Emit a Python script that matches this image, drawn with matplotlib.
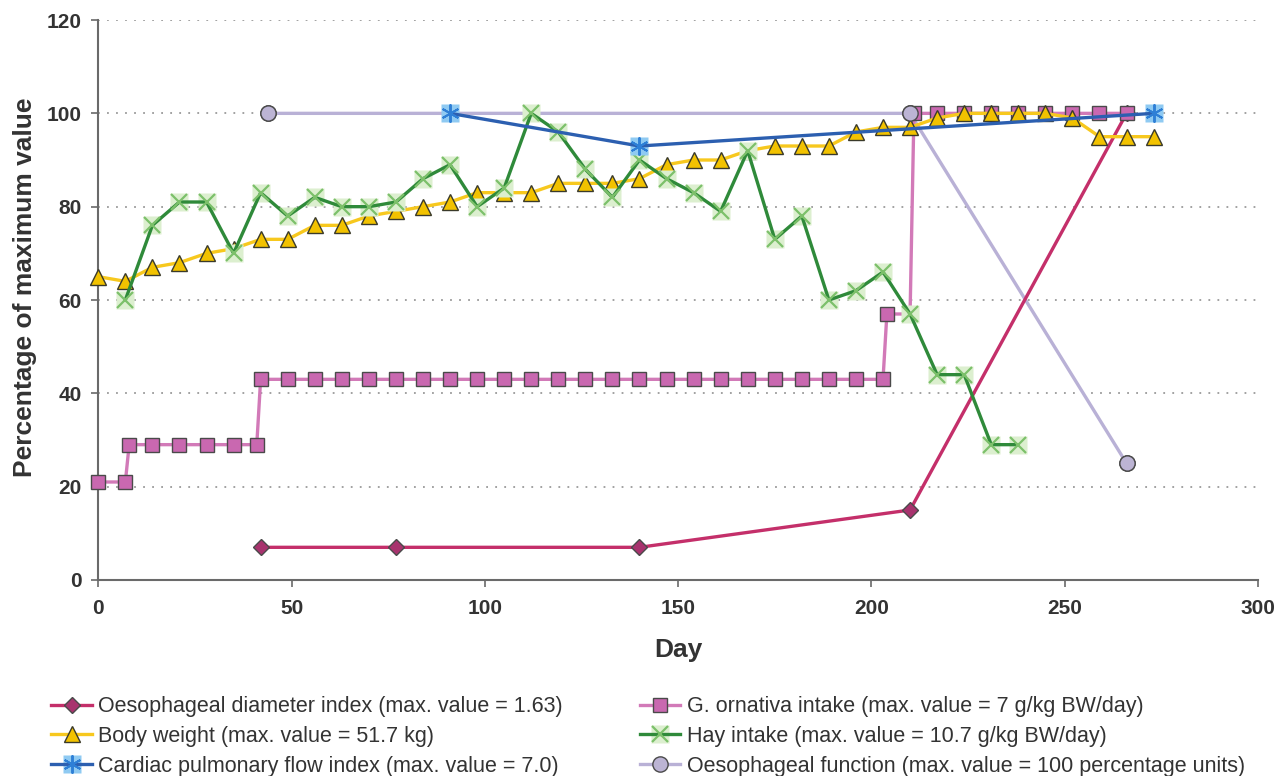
import matplotlib.pyplot as plt
from matplotlib.legend_handler import HandlerTuple

plt.rcParams['font.family'] = ['Liberation Sans', 'DejaVu Sans']

# data
bw_days = list(range(0, 274, 7))
bw_vals = [65, 64, 67, 68, 70, 71, 73, 73, 76, 76, 78, 79, 80, 81, 83, 83, 83, 85, 85, 85,
           86, 89, 90, 90, 92, 93, 93, 93, 96, 97, 97, 99, 100, 100, 100, 100, 99, 95, 95, 95]

hay_days = list(range(7, 239, 7))
hay_vals = [60, 76, 81, 81, 70, 83, 78, 82, 80, 80, 81, 86, 89, 80, 84, 100, 96, 88, 82, 90,
            86, 83, 79, 92, 73, 78, 60, 62, 66, 57, 44, 44, 29, 29]

go_days = [0, 7, 8, 14, 21, 28, 35, 41] + list(range(42, 204, 7)) + [204, 210, 211] + list(range(217, 267, 7))
go_vals = [21, 21, 29, 29, 29, 29, 29, 29] + [43] * 24 + [57, 57, 100] + [100] * 8

diam_days = [42, 77, 140, 210, 266]
diam_vals = [7, 7, 7, 15, 100]

cpf_days = [91, 140, 273]
cpf_vals = [100, 93, 100]

func_days = [44, 210, 266]
func_vals = [100, 100, 25]

labels = ['Oesophageal diameter index (max. value = 1.63)',
          'G. ornativa intake (max. value = 7 g/kg BW/day)',
          'Body weight (max. value = 51.7 kg)',
          'Hay intake (max. value = 10.7 g/kg BW/day)',
          'Cardiac pulmonary flow index (max. value = 7.0)',
          'Oesophageal function (max. value = 100 percentage units)']

fig = plt.figure(figsize=(12.88, 7.76), dpi=100)
ax = fig.add_axes([0.0763, 0.2526, 0.9004, 0.7216])

edge = '#4a4a4a'
lw = 2.4

h_func, = ax.plot(func_days, func_vals, color='#b9b1d6', lw=lw, marker='o', ms=11,
                  mfc='#bcb4d4', mec=edge, mew=1.0, zorder=3, clip_on=False)
h_diam, = ax.plot(diam_days, diam_vals, color='#c42f6a', lw=lw, marker='D', ms=8,
                  mfc='#a8336e', mec=edge, mew=1.0, zorder=4, clip_on=False)
h_go, = ax.plot(go_days, go_vals, color='#d27ab8', lw=lw, marker='s', ms=10,
                mfc='#c968b0', mec=edge, mew=1.0, zorder=4, clip_on=False)
h_bw, = ax.plot(bw_days, bw_vals, color='#f7c81e', lw=lw, marker='^', ms=12,
                mfc='#f2c200', mec='#3a3a2a', mew=1.0, zorder=5, clip_on=False)
# hay: pale square behind a green cross
h_hay_bg, = ax.plot(hay_days, hay_vals, ls='none', marker='s', ms=13, mfc='#dcefcf',
                    mec='none', zorder=5)
h_hay, = ax.plot(hay_days, hay_vals, color='#2f8a3a', lw=lw, marker='x', ms=12,
                 mec='#7cc06a', mew=1.6, zorder=6)
# cardiac: light blue square behind an asterisk
h_cpf_bg, = ax.plot(cpf_days, cpf_vals, ls='none', marker='s', ms=13, mfc='#8fcaf2',
                    mec='none', zorder=7)
h_cpf, = ax.plot(cpf_days, cpf_vals, color='#2c5fb0', lw=lw, marker=(6, 2, 0), ms=13,
                 mec='#2e7fd6', mew=1.4, zorder=8)
ax.plot(func_days, func_vals, ls='none', marker='o', ms=11, mfc='#bcb4d4', mec=edge,
        mew=1.0, zorder=9)

ax.set_xlim(0, 300)
ax.set_ylim(0, 120)
ax.set_xticks(range(0, 301, 50))
ax.set_yticks(range(0, 121, 20))
ax.yaxis.grid(True, ls=(0, (1, 4)), color='#9a9a9a', lw=1.3)
ax.set_axisbelow(True)
for s in ['top', 'right']:
    ax.spines[s].set_visible(False)
for s in ['left', 'bottom']:
    ax.spines[s].set_color('#6a6a6a')
    ax.spines[s].set_linewidth(1.5)
ax.tick_params(colors='#6a6a6a', length=5, width=1.2, labelsize=15)
ax.tick_params(axis='x', pad=9)
ax.tick_params(axis='y', pad=7)
for t in ax.get_xticklabels() + ax.get_yticklabels():
    t.set_fontweight('bold')
    t.set_color('#333333')
ax.set_xlabel('Day', fontsize=19, fontweight='bold', color='#333333', labelpad=14)
ax.set_ylabel('Percentage of maximum value', fontsize=19, fontweight='bold',
              color='#333333')
ax.yaxis.set_label_coords(-0.053, 0.523)

handles = [h_diam, h_bw, (h_cpf_bg, h_cpf), h_go, (h_hay_bg, h_hay), h_func]
leg_labels = [labels[0], labels[2], labels[4], labels[1], labels[3], labels[5]]
fig.legend(handles, leg_labels, loc='upper left', bbox_to_anchor=(0.028, 0.122),
           ncol=2, frameon=False, fontsize=15.5, handlelength=1.9, handletextpad=0.3,
           columnspacing=3.55, labelspacing=0.4, borderpad=0.2,
           handler_map={tuple: HandlerTuple(ndivide=1)},
           labelcolor='#333333')

plt.savefig('out.png', dpi=100)
